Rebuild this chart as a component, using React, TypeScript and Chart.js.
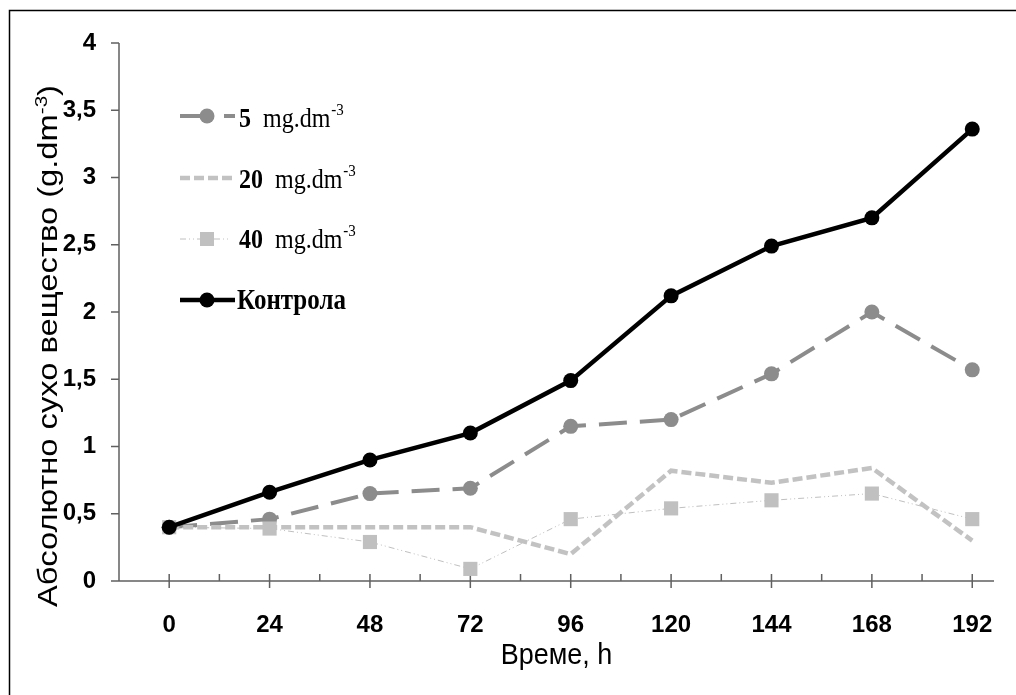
import React, { useEffect, useRef } from 'react';
import { Chart, registerables } from 'chart.js';

Chart.register(...registerables);

// ---- data ----
const hours = [0, 24, 48, 72, 96, 120, 144, 168, 192];
const control = [0.4, 0.66, 0.9, 1.1, 1.49, 2.12, 2.49, 2.7, 3.36];
const conc5 = [0.4, 0.46, 0.65, 0.69, 1.15, 1.2, 1.54, 2.0, 1.57];
const conc20 = [0.4, 0.4, 0.4, 0.4, 0.2, 0.82, 0.73, 0.84, 0.3];
const conc40 = [0.4, 0.39, 0.29, 0.09, 0.46, 0.54, 0.6, 0.65, 0.46];
const xMinorTicks = [12, 36, 60, 84, 108, 132, 156, 180];
const yTickValues = [0, 0.5, 1, 1.5, 2, 2.5, 3, 3.5, 4];
const seriesLabels = ['5', '20', '40', 'Контрола'];
const unitText = 'mg.dm';
const unitSup = '-3';
const xTitle = 'Време, h';
const yTitleMain = 'Абсолютно сухо вещество (g.dm';
const yTitleSup = '-3';
const yTitleEnd = ')';

const W = 1016;
const H = 695;

const SANS = '"Liberation Sans", Arial, sans-serif';
const SERIF = '"Liberation Serif", "Times New Roman", serif';

const toXY = (vals: number[]) => hours.map((h, i) => ({ x: h, y: vals[i] }));

const COL5 = '#8c8c8c';
const COL20 = '#c2c2c2';
const COL40 = '#c0c0c0';

function textStretched(ctx: any, text: string, x: number, y: number, sy: number) {
  ctx.save();
  ctx.translate(x, y);
  ctx.scale(1, sy);
  ctx.fillText(text, 0, 0);
  ctx.restore();
}

const customPlugin = {
  id: 'customDecor',
  beforeDraw(chart: any) {
    const ctx = chart.ctx;
    ctx.save();
    ctx.fillStyle = '#fff';
    ctx.fillRect(0, 0, W, H);
    ctx.strokeStyle = '#000';
    ctx.lineWidth = 1.5;
    ctx.strokeRect(9.5, 10.5, W + 20, H + 20);
    ctx.restore();
  },
  beforeDatasetsDraw(chart: any) {
    const ctx = chart.ctx;
    const { left, right, bottom, top } = chart.chartArea;
    const xs = chart.scales.x;
    const ys = chart.scales.y;
    ctx.save();
    ctx.strokeStyle = '#606060';
    ctx.lineWidth = 1.5;
    ctx.beginPath();
    ctx.moveTo(left, top);
    ctx.lineTo(left, bottom);
    ys.ticks.forEach((t: any) => {
      const y = ys.getPixelForValue(t.value);
      ctx.moveTo(left - 8, y);
      ctx.lineTo(left, y);
    });
    ctx.moveTo(left - 8, bottom);
    ctx.lineTo(right, bottom);
    xs.ticks.forEach((t: any) => {
      const v = t.value;
      const x = xs.getPixelForValue(v);
      if (hours.includes(v)) {
        ctx.moveTo(x, bottom - 7);
        ctx.lineTo(x, bottom + 7);
      } else if (xMinorTicks.includes(v)) {
        ctx.moveTo(x, bottom - 7);
        ctx.lineTo(x, bottom);
      }
    });
    ctx.stroke();
    ctx.restore();
  },
  afterDraw(chart: any) {
    const ctx = chart.ctx;
    const { left, right } = chart.chartArea;
    ctx.save();
    ctx.fillStyle = '#000';
    // x title
    ctx.font = `27px ${SANS}`;
    ctx.textAlign = 'center';
    ctx.textBaseline = 'alphabetic';
    textStretched(ctx, xTitle, (left + right) / 2, 664, 1.12);

    // y title (rotated), stretched along its length
    ctx.save();
    ctx.translate(57, 346);
    ctx.rotate(-Math.PI / 2);
    ctx.textAlign = 'left';
    ctx.font = `27px ${SANS}`;
    const w1 = ctx.measureText(yTitleMain).width;
    const wEnd = ctx.measureText(yTitleEnd).width;
    ctx.font = `17px ${SANS}`;
    const wSup = ctx.measureText(yTitleSup).width;
    const total = w1 + wSup + wEnd;
    const sx = 522 / total;
    ctx.scale(sx, 1);
    let x0 = -total / 2;
    ctx.font = `27px ${SANS}`;
    ctx.fillText(yTitleMain, x0, 0);
    x0 += w1;
    ctx.font = `17px ${SANS}`;
    ctx.fillText(yTitleSup, x0, -10);
    x0 += wSup;
    ctx.font = `27px ${SANS}`;
    ctx.fillText(yTitleEnd, x0, 0);
    ctx.restore();

    // legend samples
    const baselines = [127, 188, 248, 309];
    const sx0 = 180;
    const sx1 = 235;
    const mx = 207;
    const tx = 239;
    ctx.lineCap = 'butt';
    let ly = baselines[0] - 11;
    ctx.strokeStyle = COL5;
    ctx.lineWidth = 4;
    ctx.beginPath();
    ctx.moveTo(sx0, ly);
    ctx.lineTo(200, ly);
    ctx.moveTo(224, ly);
    ctx.lineTo(sx1, ly);
    ctx.stroke();
    ctx.fillStyle = COL5;
    ctx.beginPath();
    ctx.arc(mx, ly, 7.5, 0, Math.PI * 2);
    ctx.fill();

    ly = baselines[1] - 10;
    ctx.strokeStyle = COL20;
    ctx.lineWidth = 4.5;
    ctx.setLineDash([10, 4]);
    ctx.beginPath();
    ctx.moveTo(sx0, ly);
    ctx.lineTo(sx1, ly);
    ctx.stroke();

    ly = baselines[2] - 9;
    ctx.strokeStyle = COL40;
    ctx.lineWidth = 1;
    ctx.setLineDash([6, 3, 1, 3, 1, 3]);
    ctx.beginPath();
    ctx.moveTo(sx0, ly);
    ctx.lineTo(228, ly);
    ctx.stroke();
    ctx.setLineDash([]);
    ctx.fillStyle = COL40;
    ctx.fillRect(mx - 7, ly - 7, 14, 14);

    ly = baselines[3] - 9;
    ctx.strokeStyle = '#000';
    ctx.lineWidth = 4.5;
    ctx.beginPath();
    ctx.moveTo(sx0, ly);
    ctx.lineTo(sx1, ly);
    ctx.stroke();
    ctx.fillStyle = '#000';
    ctx.beginPath();
    ctx.arc(mx, ly, 7.5, 0, Math.PI * 2);
    ctx.fill();

    // legend texts
    const SY = 1.15;
    ctx.fillStyle = '#000';
    ctx.textAlign = 'left';
    for (let i = 0; i < 3; i++) {
      const b = baselines[i];
      ctx.font = `bold 24px ${SERIF}`;
      const lab = seriesLabels[i];
      textStretched(ctx, lab, tx, b, SY);
      let cx = tx + ctx.measureText(lab).width;
      ctx.font = `24px ${SERIF}`;
      cx += ctx.measureText('  ').width;
      textStretched(ctx, unitText, cx, b, SY);
      cx += ctx.measureText(unitText).width + 1;
      ctx.font = `15px ${SERIF}`;
      textStretched(ctx, unitSup, cx, b - 12, SY);
    }
    ctx.font = `bold 25px ${SERIF}`;
    textStretched(ctx, seriesLabels[3], tx - 2, baselines[3], SY);
    ctx.restore();
  },
};

export default function App() {
  const canvasRef = useRef<HTMLCanvasElement | null>(null);

  useEffect(() => {
    const canvas = canvasRef.current;
    if (!canvas) return;
    const chart = new Chart(canvas, {
      type: 'line',
      data: {
        datasets: [
          {
            label: seriesLabels[3],
            data: toXY(control),
            borderColor: '#000',
            backgroundColor: '#000',
            borderWidth: 4.5,
            pointRadius: 7.5,
            pointBorderWidth: 0,
            pointBackgroundColor: '#000',
            tension: 0,
            order: 0,
          },
          {
            label: seriesLabels[2],
            data: toXY(conc40),
            borderColor: COL40,
            backgroundColor: COL40,
            borderWidth: 1,
            borderDash: [6, 3, 1, 3, 1, 3],
            pointStyle: 'rect',
            pointRadius: 10,
            pointBorderWidth: 0,
            pointBackgroundColor: COL40,
            tension: 0,
            order: 1,
          },
          {
            label: seriesLabels[1],
            data: toXY(conc20),
            borderColor: COL20,
            backgroundColor: COL20,
            borderWidth: 4.5,
            borderDash: [10, 4],
            pointRadius: 0,
            tension: 0,
            order: 2,
          },
          {
            label: seriesLabels[0],
            data: toXY(conc5),
            borderColor: COL5,
            backgroundColor: COL5,
            borderWidth: 4,
            borderDash: [28, 13],
            pointRadius: 7.5,
            pointBorderWidth: 0,
            pointBackgroundColor: COL5,
            tension: 0,
            order: 3,
          },
        ],
      },
      options: {
        responsive: false,
        animation: false,
        devicePixelRatio: 1,
        layout: { padding: { left: 0, top: 43, right: 22, bottom: 0 } },
        plugins: { legend: { display: false }, tooltip: { enabled: false } },
        scales: {
          x: {
            type: 'linear',
            min: -12,
            max: 197.2,
            grid: {
              display: true,
              drawOnChartArea: false,
              drawTicks: true,
              tickLength: 30,
              color: 'rgba(0,0,0,0)',
            },
            border: { display: false },
            afterBuildTicks: (s: any) => {
              const all = [...hours, ...xMinorTicks].sort((a, b) => a - b);
              s.ticks = all.map((v) => ({ value: v }));
            },
            ticks: {
              autoSkip: false,
              maxRotation: 0,
              padding: 0,
              color: '#000',
              font: { family: SANS, size: 24, weight: 'bold' },
              callback: (v: any) => (hours.includes(Number(v)) ? String(v) : ''),
            },
            afterFit: (s: any) => {
              s.height = 114;
            },
          },
          y: {
            min: 0,
            max: 4,
            grid: { display: false, drawTicks: false },
            border: { display: false },
            afterBuildTicks: (s: any) => {
              s.ticks = yTickValues.map((v) => ({ value: v }));
            },
            ticks: {
              padding: 23,
              color: '#000',
              font: { family: SANS, size: 24, weight: 'bold' },
              callback: (v: any) => String(v).replace('.', ','),
            },
            afterFit: (s: any) => {
              s.width = 119;
            },
          },
        },
      } as any,
      plugins: [customPlugin],
    });
    return () => chart.destroy();
  }, []);

  return (
    <div style={{ position: 'absolute', left: 0, top: 0, width: W, height: H, overflow: 'hidden', background: '#fff' }}>
      <canvas ref={canvasRef} width={W} height={H} style={{ display: 'block', width: W, height: H }} />
    </div>
  );
}
